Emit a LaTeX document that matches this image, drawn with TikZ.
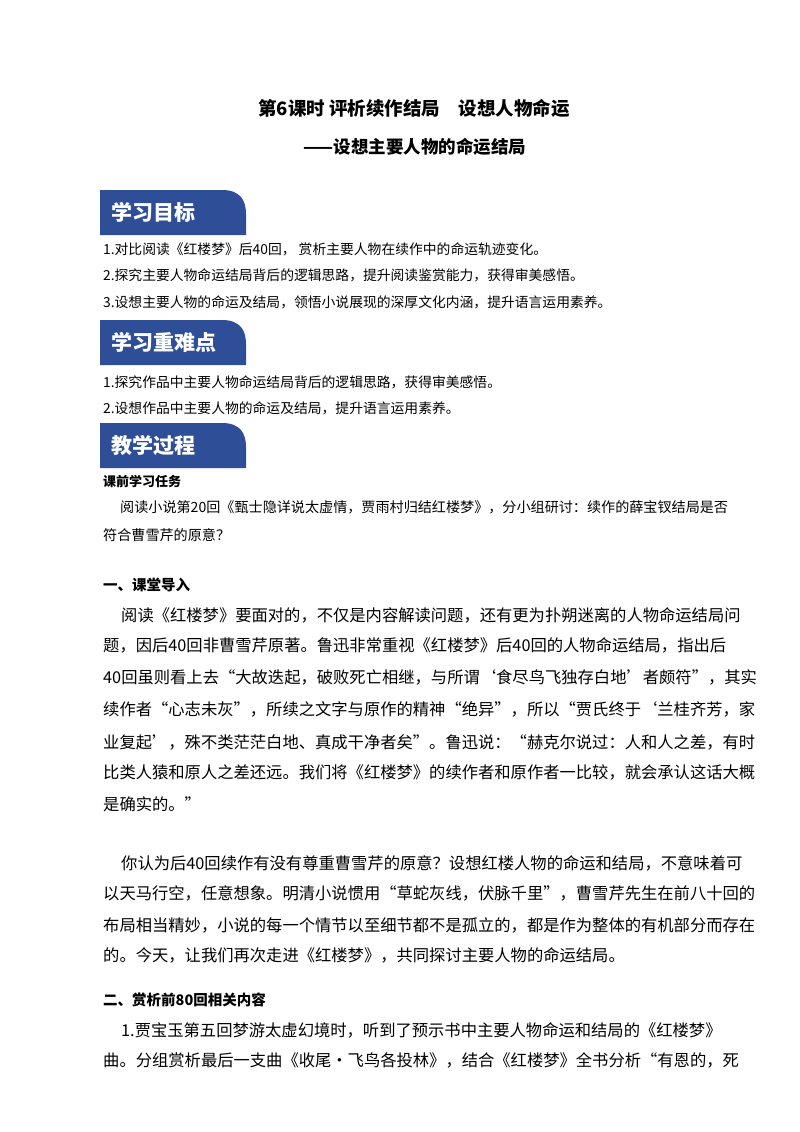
\documentclass[tikz,border=0pt]{standalone}
\usepackage{fontspec}
\setmainfont{Noto Sans CJK SC}
\begin{document}
\begin{tikzpicture}[x=1pt,y=-1pt,
  body/.style={anchor=west,inner sep=0pt,font=\fontsize{16.3}{19}\selectfont},
  small/.style={anchor=west,inner sep=0pt,font=\fontsize{13.8}{16}\selectfont},
  head/.style={anchor=west,inner sep=0pt,font=\fontsize{14.5}{17}\selectfont\bfseries},
  btext/.style={anchor=west,inner sep=0pt,text=white,font=\fontsize{21}{25}\selectfont\bfseries}]
\definecolor{bannerblue}{HTML}{2E4F98}
\useasboundingbox (0,0) rectangle (800,1132);
\fill[white] (0,0) rectangle (800,1132);
\node[inner sep=0pt,font=\fontsize{18.5}{22}\selectfont\bfseries] (t1) at (414,108) {第6课时 评析续作结局\quad 设想人物命运};
\node[inner sep=0pt,font=\fontsize{17.5}{20}\selectfont\bfseries] (t2) at (415,147) {——设想主要人物的命运结局};
\foreach \y/\txt/\n in {190/学习目标/b1,320/学习重难点/b2,423/教学过程/b3}{
  \fill[bannerblue] (100,\y+45) -- (100,\y) -- (222,\y) .. controls (240,\y) and (246,\y+10) .. (246,\y+24) -- (246,\y+45) -- cycle;
  \node[btext] (\n) at (111,\y+22) {\txt};
}
\node[small] (o1) at (103,249) {1.对比阅读《红楼梦》后40回，\ 赏析主要人物在续作中的命运轨迹变化。};
\node[small] (o2) at (103,275) {2.探究主要人物命运结局背后的逻辑思路，提升阅读鉴赏能力，获得审美感悟。};
\node[small] (o3) at (103,302) {3.设想主要人物的命运及结局，领悟小说展现的深厚文化内涵，提升语言运用素养。};
\node[small] (d1) at (103,382) {1.探究作品中主要人物命运结局背后的逻辑思路，获得审美感悟。};
\node[small] (d2) at (103,408) {2.设想作品中主要人物的命运及结局，提升语言运用素养。};
\node[head,font=\fontsize{13}{15}\selectfont\bfseries] (k0) at (103,481) {课前学习任务};
\node[small,font=\fontsize{14.1}{16}\selectfont] (k1) at (120,507) {阅读小说第20回《甄士隐详说太虚情，贾雨村归结红楼梦》，分小组研讨：续作的薛宝钗结局是否};
\node[small,font=\fontsize{14.1}{16}\selectfont] (k2) at (103,535) {符合曹雪芹的原意？};
\node[head] (h1) at (103,585) {一、课堂导入};
\node[body] (p1) at (121,615) {阅读《红楼梦》要面对的，不仅是内容解读问题，还有更为扑朔迷离的人物命运结局问};
\node[body] (p2) at (103,645) {题，因后40回非曹雪芹原著。鲁迅非常重视《红楼梦》后40回的人物命运结局，指出后};
\node[body] (p3) at (103,677) {40回虽则看上去“大故迭起，破败死亡相继，与所谓‘食尽鸟飞独存白地’者颇符”，其实};
\node[body] (p4) at (103,709) {续作者“心志未灰”，所续之文字与原作的精神“绝异”，所以“贾氏终于‘兰桂齐芳，家};
\node[body] (p5) at (103,742) {业复起’，殊不类茫茫白地、真成干净者矣”。鲁迅说：“赫克尔说过：人和人之差，有时};
\node[body] (p6) at (103,772) {比类人猿和原人之差还远。我们将《红楼梦》的续作者和原作者一比较，就会承认这话大概};
\node[body] (p7) at (103,804) {是确实的。”};
\node[body] (q1) at (121,863) {你认为后40回续作有没有尊重曹雪芹的原意？设想红楼人物的命运和结局，不意味着可};
\node[body] (q2) at (103,893) {以天马行空，任意想象。明清小说惯用“草蛇灰线，伏脉千里”，曹雪芹先生在前八十回的};
\node[body] (q3) at (103,925) {布局相当精妙，小说的每一个情节以至细节都不是孤立的，都是作为整体的有机部分而存在};
\node[body] (q4) at (103,955) {的。今天，让我们再次走进《红楼梦》，共同探讨主要人物的命运结局。};
\node[head] (h2) at (103,1000) {二、赏析前80回相关内容};
\node[body] (r1) at (121,1030) {1.贾宝玉第五回梦游太虚幻境时，听到了预示书中主要人物命运和结局的《红楼梦》};
\node[body] (r2) at (103,1060) {曲。分组赏析最后一支曲《收尾·飞鸟各投林》，结合《红楼梦》全书分析“有恩的，死};
\end{tikzpicture}
\end{document}
